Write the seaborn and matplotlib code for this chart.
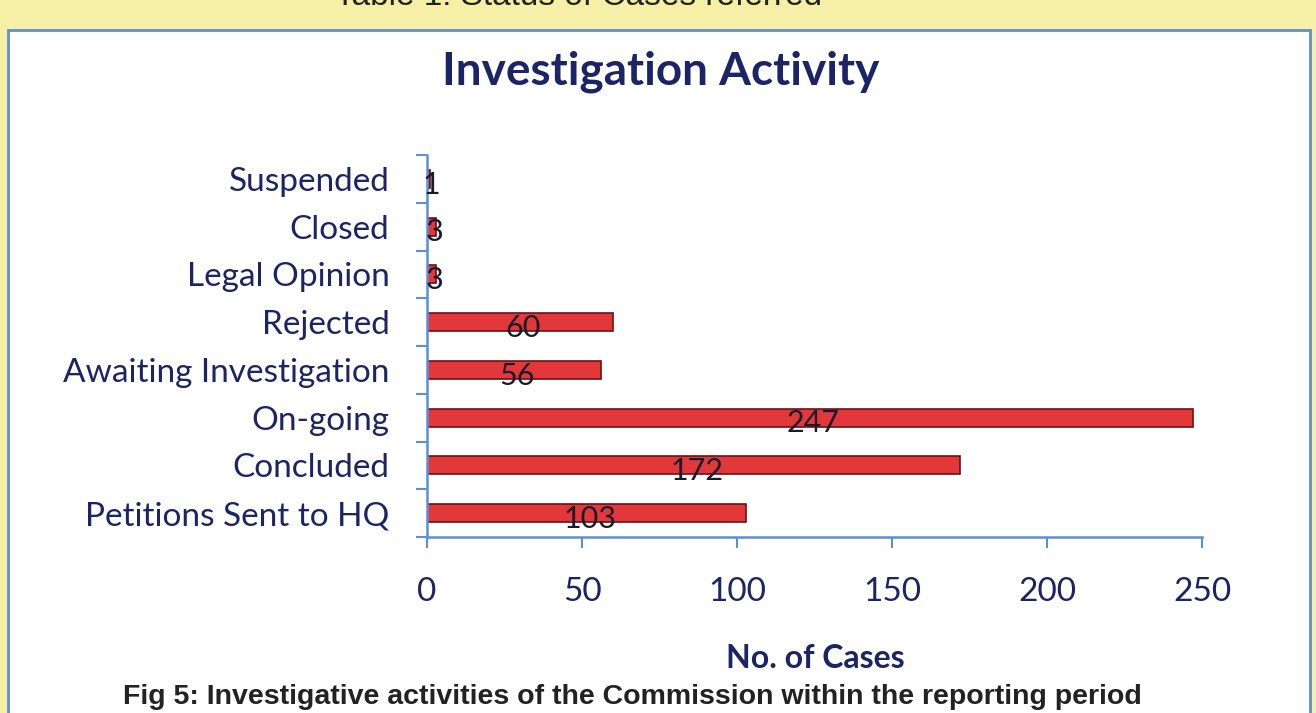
import matplotlib
matplotlib.use("Agg")
import matplotlib.pyplot as plt
from matplotlib.patches import Rectangle
import numpy as np
import pandas as pd
import seaborn as sns

categories = ["Suspended", "Closed", "Legal Opinion", "Rejected",
              "Awaiting Investigation", "On-going", "Concluded",
              "Petitions Sent to HQ"]
cases = [1, 3, 3, 60, 56, 247, 172, 103]
x_ticks = [0, 50, 100, 150, 200, 250]

NAVY = "#1b2466"
BLUE = "#5b8fd6"
RED = "#e2383a"

sns.set_theme(style="white")
plt.rcParams["font.family"] = ["Lato", "DejaVu Sans"]

df = pd.DataFrame({"category": categories, "cases": cases})

fig = plt.figure(figsize=(13.16, 7.13), dpi=100)
fig.patch.set_facecolor("#f6efa6")
fig.patches.append(Rectangle((8 / 1316, -0.01), 1302 / 1316, 1 - 30 / 713 + 0.01,
                             transform=fig.transFigure, facecolor="white",
                             edgecolor=BLUE, linewidth=2, zorder=-5))

ax = fig.add_axes([427 / 1316, 176 / 713, 775 / 1316, 382 / 713])
ax.set_facecolor("none")

sns.barplot(data=df, y="category", x="cases", orient="h", order=categories,
            color=RED, width=0.38, saturation=1, edgecolor="#6b1016",
            linewidth=1.2, ax=ax)

for i, v in enumerate(cases):
    ax.text(v / 2 + 1, i + 0.12, str(v), ha="center", va="center",
            fontsize=22, color="#1a1a2e")

ax.set_xlim(0, 250)
ax.set_ylim(7.5, -0.5)
ax.set_xticks(x_ticks)
ax.set_xticklabels([str(t) for t in x_ticks], fontsize=24, color=NAVY)
ax.set_yticks(range(len(categories)))
ax.set_yticklabels(categories, fontsize=24, color=NAVY)
ax.set_yticks(np.arange(-0.5, len(categories)), minor=True)
ax.tick_params(axis="y", which="major", length=0, pad=27)
ax.tick_params(axis="y", which="minor", length=8, color=BLUE, width=1.5, left=True)
ax.tick_params(axis="x", which="major", length=8, color=BLUE, width=1.5,
               bottom=True, pad=21)

for side in ["top", "right"]:
    ax.spines[side].set_visible(False)
for side in ["left", "bottom"]:
    ax.spines[side].set_color(BLUE)
    ax.spines[side].set_linewidth(1.8)

ax.set_ylabel("")
ax.set_xlabel("")
fig.text(815 / 1316, 1 - 658 / 713, "No. of Cases", ha="center", va="center",
         fontsize=23, fontweight="bold", color=NAVY)

fig.text(0.502, 1 - 72 / 713, "Investigation Activity", ha="center", va="center",
         fontsize=33, fontweight="bold", color=NAVY)
fig.text(0.44, 1.005, "Table 1: Status of Cases referred", ha="center", va="center",
         fontsize=24, color="#222222", family=["Liberation Sans"])
fig.text(0.4805, 1 - 697 / 713,
         "Fig 5: Investigative activities of the Commission within the reporting period",
         ha="center", va="center", fontsize=20.5, fontweight="bold", color="#222222",
         family=["Liberation Sans"])

fig.savefig("out.png", dpi=100)
